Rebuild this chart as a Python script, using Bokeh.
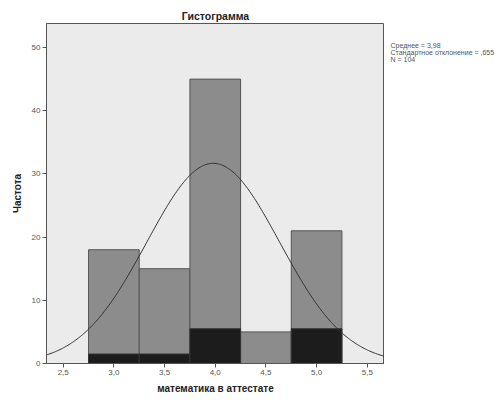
import numpy as np
from bokeh.plotting import figure
from bokeh.models import Range1d, FixedTicker, Label
from bokeh.layouts import row
from bokeh.embed import file_html
from bokeh.resources import INLINE

# Data
bin_left = [2.75, 3.25, 3.75, 4.25, 4.75]
bin_right = [3.25, 3.75, 4.25, 4.75, 5.25]
counts = [18, 15, 45, 5, 21]
dark_counts = [1.5, 1.5, 5.5, 0, 5.5]
mean_val = 3.98
sd_val = 0.655
n_val = 104
bin_width = 0.5
x_ticks = [2.5, 3.0, 3.5, 4.0, 4.5, 5.0, 5.5]
x_tick_labels = ["2,5", "3,0", "3,5", "4,0", "4,5", "5,0", "5,5"]
y_ticks = [0, 10, 20, 30, 40, 50]
stats_lines = ["Среднее = 3,98", "Стандартное отклонение = ,655", "N = 104"]

FONT = "Liberation Sans"

p = figure(width=384, height=400, output_backend="svg", toolbar_location=None,
           x_range=Range1d(2.335, 5.67), y_range=Range1d(0, 53.8),
           min_border_left=46, min_border_right=0, min_border_top=23,
           min_border_bottom=37, title="Гистограмма")

p.background_fill_color = "#ebebeb"
p.border_fill_color = "white"
p.outline_line_color = "#555555"
p.outline_line_width = 1
p.grid.visible = False

p.title.align = "center"
p.title.text_font = FONT
p.title.text_font_size = "10.5px"
p.title.text_font_style = "bold"
p.title.text_color = "#222222"
p.title.standoff = 3

p.quad(left=bin_left, right=bin_right, bottom=0, top=counts,
       fill_color="#8c8c8c", line_color="#555555", line_width=1)
p.quad(left=bin_left, right=bin_right, bottom=0, top=dark_counts,
       fill_color="#1c1c1c", line_color="#333333", line_width=1)

xs = np.linspace(2.335, 5.67, 300)
ys = n_val * bin_width / (sd_val * np.sqrt(2 * np.pi)) * np.exp(-0.5 * ((xs - mean_val) / sd_val) ** 2)
p.line(xs, ys, line_color="#333333", line_width=1)

for ax in (p.xaxis, p.yaxis):
    ax.axis_line_color = "#555555"
    ax.major_tick_line_color = "#555555"
    ax.major_tick_out = 4
    ax.major_tick_in = 0
    ax.minor_tick_line_color = None
    ax.major_label_text_font = FONT
    ax.major_label_text_font_size = "8px"
    ax.major_label_text_color = "#555555"
    ax.axis_label_text_font = FONT
    ax.axis_label_text_font_size = "10px"
    ax.axis_label_text_font_style = "bold"
    ax.axis_label_text_color = "#222222"
    ax.major_label_standoff = 2

p.xaxis.ticker = FixedTicker(ticks=x_ticks)
p.xaxis.major_label_overrides = {t: l for t, l in zip(x_ticks, x_tick_labels)}
p.xaxis.axis_label = "математика в аттестате"
p.xaxis.axis_label_standoff = 5
p.yaxis.ticker = FixedTicker(ticks=y_ticks)
p.yaxis.axis_label = "Частота"
p.yaxis.axis_label_standoff = 6

# side panel with the statistics box text (its frame is aligned with p's frame)
s = figure(width=119, height=400, output_backend="svg", toolbar_location=None,
           x_range=Range1d(0, 1), y_range=Range1d(0, 1),
           min_border_left=0, min_border_right=0, min_border_top=23,
           min_border_bottom=37)
s.axis.visible = False
s.grid.visible = False
s.outline_line_color = None
s.background_fill_color = "white"
s.border_fill_color = "white"
for i, line in enumerate(stats_lines):
    s.add_layout(Label(x=6, y=318 - i * 7, x_units="screen", y_units="screen",
                       text=line, text_font=FONT,
                       text_font_size="7px", text_color="#555555",
                       text_baseline="middle"))

layout = row(p, s, spacing=0)
open("out.html", "w").write(file_html(layout, INLINE))
